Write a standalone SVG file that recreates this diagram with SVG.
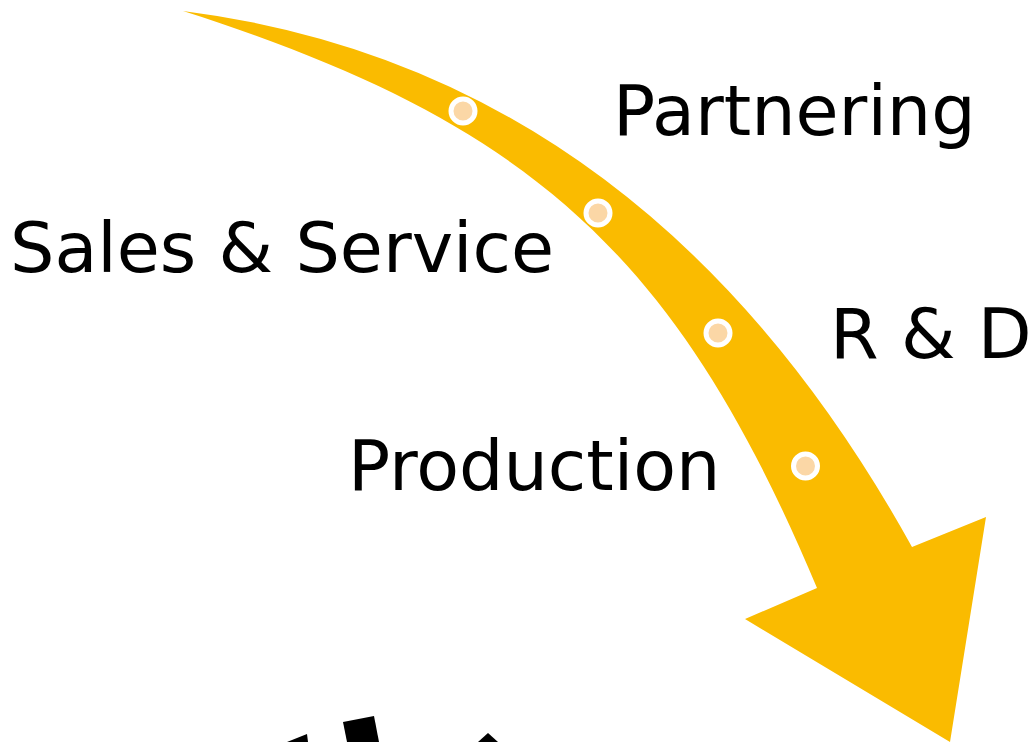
<svg xmlns="http://www.w3.org/2000/svg" width="1032" height="742" viewBox="0 0 1032 742">
<style>
.lbl{font-family:"DejaVu Sans","Verdana",sans-serif;font-size:70px;fill:#000}
.dot{fill:#FBD7A6;stroke:#fff;stroke-width:5}
.blk{fill:#000}
</style>
<rect width="1032" height="742" fill="#fff"/>
<g id="connectors">
<path id="arrow" fill="#FABB00" d="M183,11 Q648,70 912,547 L986,517 L950,742 L745,619 L817,588 C677.3,255.2 531.5,122.5 183,11 Z"/>
</g>
<g id="dots">
<circle class="dot" cx="463" cy="111" r="12"/>
<circle class="dot" cx="598" cy="213" r="12"/>
<circle class="dot" cx="718" cy="333" r="12"/>
<circle class="dot" cx="805.5" cy="466" r="12"/>
</g>
<g id="node-partnering"><text class="lbl" x="613" y="135">Partnering</text></g>
<g id="node-sales"><text class="lbl" x="10" y="272">Sales &amp; Service</text></g>
<g id="node-rd"><text class="lbl" x="830" y="358">R &amp; D</text></g>
<g id="node-production"><text class="lbl" x="348" y="490">Production</text></g>
<g id="bottom-shapes">
<polygon class="blk" points="287,742 307,734 308,742"/>
<polygon class="blk" points="343,722 374,716 379,742 347,742"/>
<polygon class="blk" points="488,733 478,742 498,742"/>
</g>
</svg>
